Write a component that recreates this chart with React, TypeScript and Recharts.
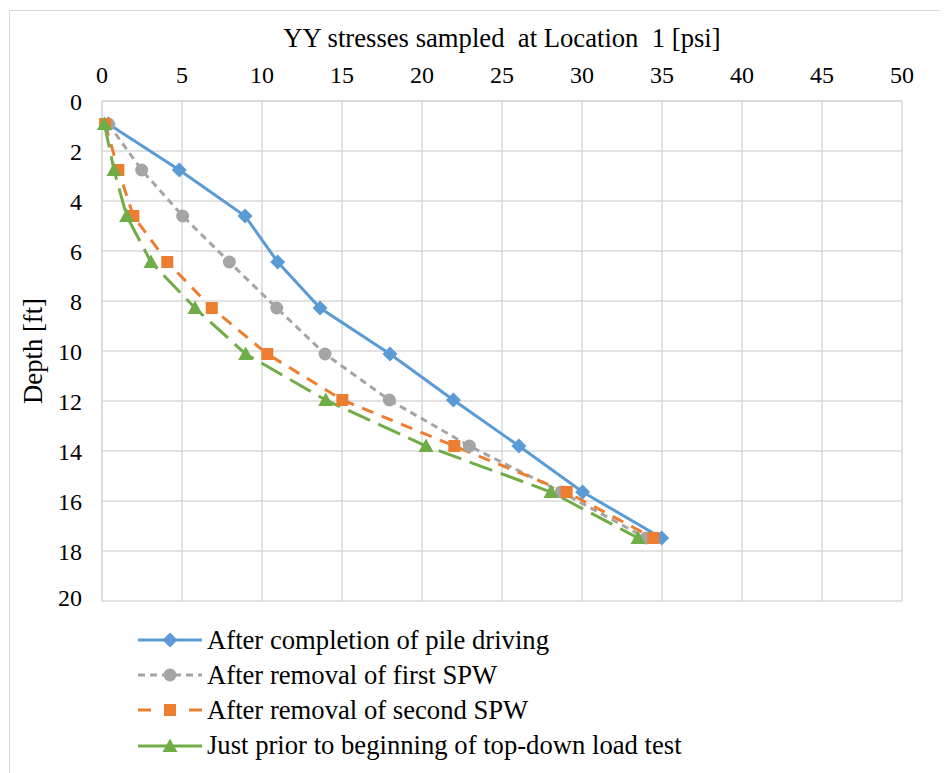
import React from 'react';
import { LineChart, Line, XAxis, YAxis, CartesianGrid } from 'recharts';

// depth of each sampling point [ft]
const depths = [0.92, 2.76, 4.6, 6.44, 8.28, 10.12, 11.96, 13.8, 15.64, 17.48];

// YY stress [psi] at each depth, one array per stage
const pileDriving = [0.4, 4.83, 8.94, 10.98, 13.63, 18.0, 21.96, 26.06, 30.04, 34.98];
const firstSpw = [0.4, 2.48, 5.04, 7.96, 10.92, 13.94, 17.96, 22.96, 28.7, 34.0];
const secondSpw = [0.2, 1.02, 1.96, 4.08, 6.86, 10.33, 15.02, 22.02, 29.04, 34.46];
const beforeLoadTest = [0.15, 0.75, 1.54, 3.06, 5.81, 8.98, 13.98, 20.25, 28.06, 33.5];

const xTicks = [0, 5, 10, 15, 20, 25, 30, 35, 40, 45, 50];
const yTicks = [0, 2, 4, 6, 8, 10, 12, 14, 16, 18, 20];

const FONT = "Liberation Serif, Tinos, DejaVu Serif, Noto Serif, Times New Roman, serif";
const GRID = '#d9d9d9';

type Shape = 'diamond' | 'circle' | 'square' | 'triangle';

const series: { name: string; values: number[]; color: string; dash?: string; legendDash?: string; shape: Shape }[] = [
  { name: 'After completion of pile driving', values: pileDriving, color: '#5B9BD5', shape: 'diamond' },
  { name: 'After removal of first SPW', values: firstSpw, color: '#A5A5A5', dash: '7 5', legendDash: '7 5', shape: 'circle' },
  { name: 'After removal of second SPW', values: secondSpw, color: '#ED7D31', dash: '12 9', legendDash: '13 38 13', shape: 'square' },
  { name: 'Just prior to beginning of top-down load test', values: beforeLoadTest, color: '#70AD47', dash: '24 9', shape: 'triangle' },
];

function marker(shape: Shape, cx: number, cy: number, color: string, key?: string) {
  if (cx == null || cy == null) return <g key={key} />;
  switch (shape) {
    case 'diamond': {
      const r = 7.5;
      return <polygon key={key} points={`${cx},${cy - r} ${cx + r},${cy} ${cx},${cy + r} ${cx - r},${cy}`} fill={color} />;
    }
    case 'circle':
      return <circle key={key} cx={cx} cy={cy} r={6.5} fill={color} />;
    case 'square':
      return <rect key={key} x={cx - 6} y={cy - 6} width={12} height={12} fill={color} />;
    default:
      return <polygon key={key} points={`${cx},${cy - 7.5} ${cx + 7.5},${cy + 6} ${cx - 7.5},${cy + 6}`} fill={color} />;
  }
}

export default function App() {
  return (
    <div
      style={{
        position: 'relative',
        left: 1,
        top: 2,
        width: 930,
        height: 780,
        border: `1px solid ${GRID}`,
        fontFamily: FONT,
        color: '#000',
        background: '#fff',
      }}
    >
      <LineChart width={930} height={600} margin={{ top: 10, right: 38, left: 10, bottom: 10 }} style={{ fontFamily: FONT }}>
        <CartesianGrid stroke={GRID} strokeWidth={1.5} />
        <XAxis
          type="number"
          dataKey="x"
          orientation="top"
          domain={[0, 50]}
          ticks={xTicks}
          height={80}
          tickLine={false}
          tickSize={0}
          tickMargin={18}
          axisLine={{ stroke: GRID, strokeWidth: 1.5 }}
          tick={{ fontSize: 24, fill: '#000', fontFamily: FONT }}
          label={{
            value: 'YY stresses sampled\u00A0 at Location\u00A0 1 [psi]',
            position: 'insideTop',
            offset: 7.4,
            fontSize: 26.67,
            fill: '#000',
            fontFamily: FONT,
          }}
        />
        <YAxis
          type="number"
          dataKey="y"
          domain={[0, 20]}
          reversed
          ticks={yTicks}
          width={82}
          tickLine={false}
          tickSize={0}
          tickMargin={20}
          axisLine={{ stroke: GRID, strokeWidth: 1.5 }}
          tick={{ fontSize: 24, fill: '#000', fontFamily: FONT }}
          label={{
            value: 'Depth [ft]',
            angle: -90,
            position: 'insideLeft',
            offset: 12.5,
            fontSize: 26.67,
            fill: '#000',
            fontFamily: FONT,
            style: { textAnchor: 'middle' },
          }}
        />
        {series.map((s) => (
          <Line
            key={s.name}
            name={s.name}
            data={s.values.map((v, i) => ({ x: v, y: depths[i] }))}
            dataKey="y"
            type="linear"
            stroke={s.color}
            strokeWidth={3}
            strokeDasharray={s.dash}
            dot={(p: any) => marker(s.shape, p.cx, p.cy, s.color, `${s.shape}-${p.index}`)}
            activeDot={false}
            isAnimationActive={false}
          />
        ))}
      </LineChart>
      <div style={{ position: 'absolute', left: 128, top: 611.5 }}>
        {series.map((s) => (
          <div key={s.name} style={{ display: 'flex', alignItems: 'center', height: 35.2 }}>
            <svg width={64} height={20}>
              <line x1={0} y1={10} x2={64} y2={10} stroke={s.color} strokeWidth={3} strokeDasharray={s.legendDash} />
              {marker(s.shape, 32, 10, s.color)}
            </svg>
            <span style={{ marginLeft: 5, fontSize: 26.67, lineHeight: '35.2px', whiteSpace: 'nowrap' }}>{s.name}</span>
          </div>
        ))}
      </div>
    </div>
  );
}
